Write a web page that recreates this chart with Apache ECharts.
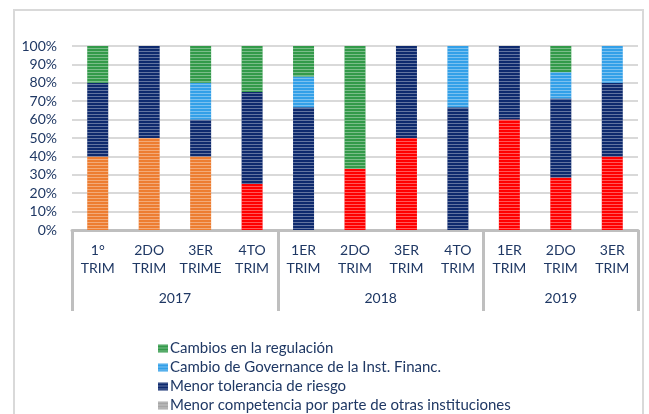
<!DOCTYPE html>
<html>
<head>
<meta charset="utf-8">
<script src="https://cdn.jsdelivr.net/npm/echarts@6/dist/echarts.min.js"></script>
<style>
  html, body { margin: 0; padding: 0; background: #fff; }
  #chart { width: 649px; height: 414px; }
</style>
</head>
<body>
<div id="chart"></div>
<script>
var categories = ['1°\nTRIM', '2DO\nTRIM', '3ER\nTRIME', '4TO\nTRIM',
  '1ER\nTRIM', '2DO\nTRIM', '3ER\nTRIM', '4TO\nTRIM',
  '1ER\nTRIM', '2DO\nTRIM', '3ER\nTRIM']
var years = ['2017', '2018', '2019']
var yearSizes = [4, 4, 3]

// stacked shares (%) bottom to top
var orangeVals = [40, 50, 40, 0, 0, 0, 0, 0, 0, 0, 0]
var redVals = [0, 0, 0, 25, 0, 33.3, 50, 0, 60, 28.6, 40]
var navyVals = [40, 50, 20, 50, 66.7, 0, 50, 66.7, 40, 42.9, 40]
var greyVals = [0, 0, 0, 0, 0, 0, 0, 0, 0, 0, 0]
var blueVals = [0, 0, 20, 0, 16.7, 0, 0, 33.3, 0, 14.3, 20]
var greenVals = [20, 0, 20, 25, 16.7, 66.7, 0, 0, 0, 14.3, 0]

var legendNames = ['Cambios en la regulación', 'Cambio de Governance de la Inst. Financ.',
  'Menor tolerancia de riesgo', 'Menor competencia por parte de otras instituciones']

var textColor = '#1f3864'
var boxColor = '#bfbfbf'

var myChart = echarts.init(document.getElementById('chart'))

function stripes() {
  // light horizontal stripes like the original bars
  return {
    symbol: 'rect',
    symbolSize: 1,
    dashArrayX: [10, 0],
    dashArrayY: [1, 2],
    rotation: 0,
    color: 'rgba(255,255,255,0.35)'
  }
}

function bar(name, color, data) {
  return {
    name: name,
    type: 'bar',
    stack: 'total',
    barWidth: 21,
    data: data,
    itemStyle: { color: color, decal: stripes() },
    emphasis: { disabled: true }
  }
}

var option = {
  animation: false,
  textStyle: { fontFamily: 'Lato' },
  legend: {
    orient: 'vertical',
    left: 158,
    top: 340,
    height: 120,
    padding: 0,
    itemWidth: 10,
    itemHeight: 8,
    itemGap: 2,
    icon: 'rect',
    data: legendNames,
    textStyle: { color: textColor, fontSize: 15, lineHeight: 17, padding: [0, 0, 0, -3] }
  },
  grid: { left: 72, right: 11, top: 46, bottom: 184 },
  xAxis: {
    type: 'category',
    data: categories,
    axisLine: { lineStyle: { color: boxColor, width: 3 } },
    axisTick: {
      show: true,
      length: 81,
      interval: function(index) {
        return index === 0 || index === 4 || index === 8
      },
      lineStyle: { color: boxColor, width: 3 }
    },
    axisLabel: {
      interval: 0,
      color: textColor,
      fontSize: 14,
      lineHeight: 18,
      margin: 11
    }
  },
  yAxis: {
    type: 'value',
    min: 0,
    max: 100,
    interval: 10,
    axisLine: { show: false },
    axisTick: { show: false },
    axisLabel: {
      formatter: '{value}%',
      color: textColor,
      fontSize: 14,
      margin: 15
    },
    splitLine: { lineStyle: { color: '#d9d9d9', width: 2 } }
  },
  series: [
    bar('Otros motivos (a)', '#ED7D31', orangeVals),
    bar('Otros motivos (b)', '#FF0000', redVals),
    bar(legendNames[2], '#0E2A6E', navyVals),
    bar(legendNames[3], '#A6A6A6', greyVals),
    bar(legendNames[1], '#33A0E8', blueVals),
    bar(legendNames[0], '#339A4A', greenVals)
  ]
}
myChart.setOption(option)

// outer frame and year labels, placed from the category axis
var graphics = [{
  type: 'rect',
  shape: { x: 14, y: 10, width: 629, height: 430 },
  style: { fill: 'none', stroke: '#d9d9d9', lineWidth: 2 },
  z: -1
}]
var start = 0
years.forEach(function(y, i) {
  var x0 = myChart.convertToPixel({ xAxisIndex: 0 }, start)
  var x1 = myChart.convertToPixel({ xAxisIndex: 0 }, start + yearSizes[i] - 1)
  graphics.push({
    type: 'text',
    x: (x0 + x1) / 2,
    y: 298,
    style: {
      text: y,
      fill: textColor,
      font: '14px Lato',
      align: 'center',
      verticalAlign: 'middle'
    }
  })
  start += yearSizes[i]
})
myChart.setOption({ graphic: graphics })

window.onresize = function() {
  myChart.resize()
}
</script>
</body>
</html>
